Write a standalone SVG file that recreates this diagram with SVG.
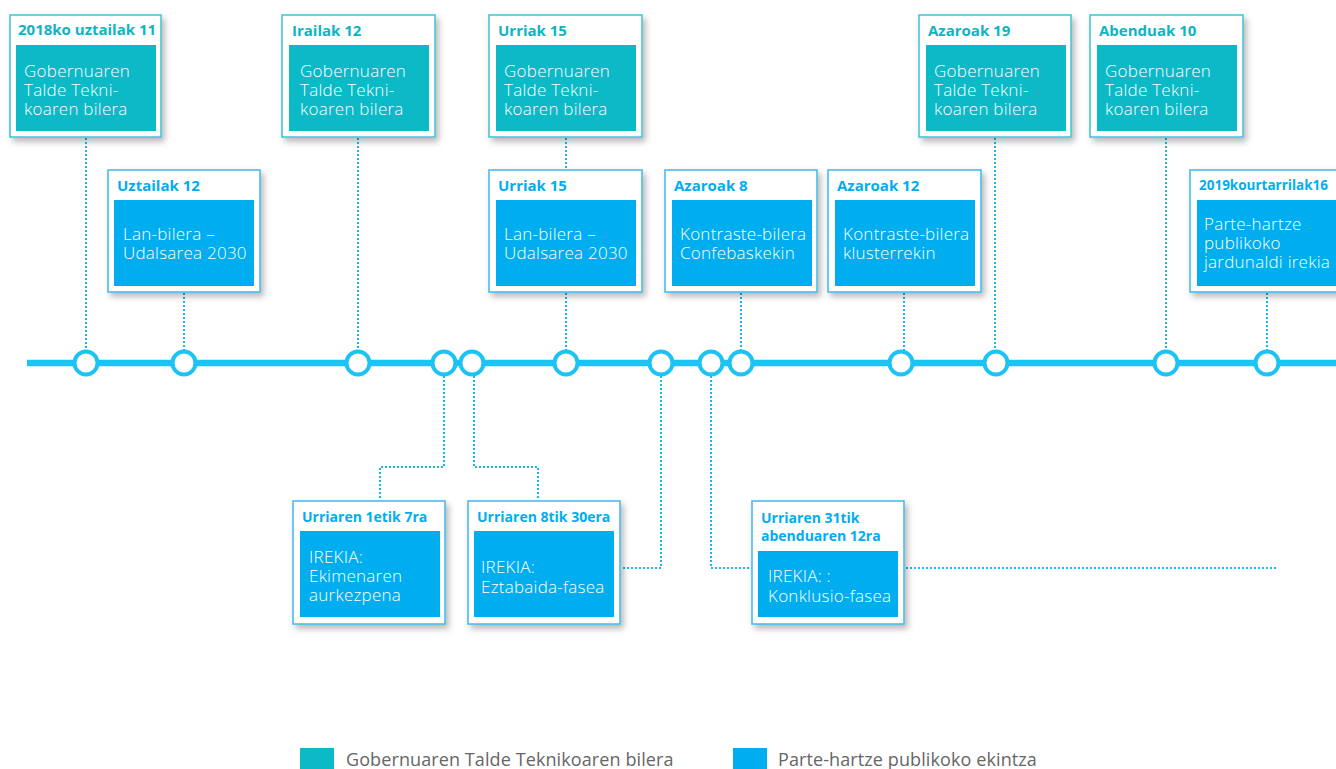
<svg xmlns="http://www.w3.org/2000/svg" width="1336" height="769" viewBox="0 0 1336 769">
<defs>
<filter id="sh" x="-10%" y="-10%" width="130%" height="130%">
<feDropShadow dx="3" dy="4" stdDeviation="3" flood-color="#000" flood-opacity="0.28"/>
</filter>
<style>
.fr{fill:#fff;stroke-width:1.5;filter:url(#sh)}
.frt{stroke:#3CC3D3}
.frb{stroke:#3DB9EC}
.it{fill:#0BB9C7}
.ib{fill:#00AEEF}
.tt{font-family:"Open Sans","Liberation Sans",sans-serif;font-weight:700;font-size:15px;fill:#0BB5C5}
.tb{font-family:"Open Sans","Liberation Sans",sans-serif;font-weight:700;font-size:15px;fill:#00AEEF}
.ts{font-size:14px}
.bd{font-family:"Open Sans","Liberation Sans",sans-serif;font-weight:300;font-size:17px;letter-spacing:0.25px;fill:#fff}
.cn{fill:none;stroke:#1AB8E8;stroke-width:2;stroke-dasharray:2 2}
.tl{stroke:#1CC3F3;stroke-width:6.5}
.dot{fill:#fff;stroke:#1CC3F3;stroke-width:4}
.lg{font-family:"Open Sans","Liberation Sans",sans-serif;font-size:18px;letter-spacing:0.1px;fill:#666}
</style>
</defs>
<g id="connectors">
<path class="cn" d="M86 138V350M184 293V350M358 138V350M566 138V170M566 293V350M741 293V350M904 293V350M995 138V350M1166 138V350M1267 293V350"/>
<path class="cn" d="M444 376V467H380V500M474 376V467H538V500M661 376V568H623M711 376V568H751M906 568H1277"/>
</g>
<g id="timeline">
<line class="tl" x1="27" y1="363" x2="1336" y2="363"/>
<circle class="dot" cx="86" cy="363" r="11.5"/>
<circle class="dot" cx="184" cy="363" r="11.5"/>
<circle class="dot" cx="358" cy="363" r="11.5"/>
<circle class="dot" cx="444" cy="363" r="11.5"/>
<circle class="dot" cx="472" cy="363" r="11.5"/>
<circle class="dot" cx="566" cy="363" r="11.5"/>
<circle class="dot" cx="661" cy="363" r="11.5"/>
<circle class="dot" cx="711" cy="363" r="11.5"/>
<circle class="dot" cx="741" cy="363" r="11.5"/>
<circle class="dot" cx="901" cy="363" r="11.5"/>
<circle class="dot" cx="996" cy="363" r="11.5"/>
<circle class="dot" cx="1166" cy="363" r="11.5"/>
<circle class="dot" cx="1267" cy="363" r="11.5"/>
</g>
<g id="n1">
<rect class="fr frt" x="10" y="15" width="151" height="122"/>
<rect class="it" x="16" y="45" width="140" height="86"/>
<text class="tt" x="18" y="35">2018ko uztailak 11</text>
<text class="bd" x="24" y="77">Gobernuaren</text>
<text class="bd" x="24" y="96">Talde Tekni-</text>
<text class="bd" x="24" y="115">koaren bilera</text>
</g>
<g id="n2">
<rect class="fr frb" x="108" y="170" width="152" height="122"/>
<rect class="ib" x="114" y="200" width="140" height="86"/>
<text class="tb" x="117" y="191">Uztailak 12</text>
<text class="bd" x="123" y="240">Lan-bilera –</text>
<text class="bd" x="123" y="259">Udalsarea 2030</text>
</g>
<g id="n3">
<rect class="fr frt" x="282" y="15" width="153" height="122"/>
<rect class="it" x="289" y="45" width="140" height="86"/>
<text class="tt" x="292" y="36">Irailak 12</text>
<text class="bd" x="300" y="77">Gobernuaren</text>
<text class="bd" x="300" y="96">Talde Tekni-</text>
<text class="bd" x="300" y="115">koaren bilera</text>
</g>
<g id="n4">
<rect class="fr frt" x="489" y="15" width="153" height="122"/>
<rect class="it" x="496" y="45" width="140" height="86"/>
<text class="tt" x="498" y="36">Urriak 15</text>
<text class="bd" x="504" y="77">Gobernuaren</text>
<text class="bd" x="504" y="96">Talde Tekni-</text>
<text class="bd" x="504" y="115">koaren bilera</text>
</g>
<g id="n5">
<rect class="fr frb" x="489" y="170" width="153" height="122"/>
<rect class="ib" x="496" y="200" width="140" height="86"/>
<text class="tb" x="498" y="191">Urriak 15</text>
<text class="bd" x="504" y="240">Lan-bilera –</text>
<text class="bd" x="504" y="259">Udalsarea 2030</text>
</g>
<g id="n6">
<rect class="fr frb" x="665" y="170" width="152" height="122"/>
<rect class="ib" x="672" y="200" width="140" height="86"/>
<text class="tb" x="674" y="191">Azaroak 8</text>
<text class="bd" x="680" y="240">Kontraste-bilera</text>
<text class="bd" x="680" y="259">Confebaskekin</text>
</g>
<g id="n7">
<rect class="fr frb" x="828" y="170" width="153" height="122"/>
<rect class="ib" x="835" y="200" width="140" height="86"/>
<text class="tb" x="837" y="191">Azaroak 12</text>
<text class="bd" x="843" y="240">Kontraste-bilera</text>
<text class="bd" x="843" y="259">klusterrekin</text>
</g>
<g id="n8">
<rect class="fr frt" x="919" y="15" width="152" height="122"/>
<rect class="it" x="926" y="45" width="140" height="86"/>
<text class="tt" x="928" y="36">Azaroak 19</text>
<text class="bd" x="934" y="77">Gobernuaren</text>
<text class="bd" x="934" y="96">Talde Tekni-</text>
<text class="bd" x="934" y="115">koaren bilera</text>
</g>
<g id="n9">
<rect class="fr frt" x="1090" y="15" width="153" height="122"/>
<rect class="it" x="1097" y="45" width="140" height="86"/>
<text class="tt" x="1099" y="36">Abenduak 10</text>
<text class="bd" x="1105" y="77">Gobernuaren</text>
<text class="bd" x="1105" y="96">Talde Tekni-</text>
<text class="bd" x="1105" y="115">koaren bilera</text>
</g>
<g id="n10">
<rect class="fr frb" x="1190" y="170" width="153" height="122"/>
<rect class="ib" x="1197" y="200" width="140" height="86"/>
<text class="tb" x="1199" y="190" font-size="14" textLength="129" lengthAdjust="spacingAndGlyphs">2019kourtarrilak16</text>
<text class="bd" x="1204" y="230">Parte-hartze</text>
<text class="bd" x="1204" y="249">publikoko</text>
<text class="bd" x="1204" y="268">jardunaldi irekia</text>
</g>
<g id="n11">
<rect class="fr frb" x="293" y="501" width="152" height="123"/>
<rect class="ib" x="300" y="531" width="140" height="86"/>
<text class="tb ts" x="302" y="522">Urriaren 1etik 7ra</text>
<text class="bd" x="309" y="563">IREKIA:</text>
<text class="bd" x="309" y="582">Ekimenaren</text>
<text class="bd" x="309" y="601">aurkezpena</text>
</g>
<g id="n12">
<rect class="fr frb" x="468" y="501" width="152" height="123"/>
<rect class="ib" x="474" y="531" width="140" height="86"/>
<text class="tb ts" x="477" y="522">Urriaren 8tik 30era</text>
<text class="bd" x="481" y="573">IREKIA:</text>
<text class="bd" x="481" y="593">Eztabaida-fasea</text>
</g>
<g id="n13">
<rect class="fr frb" x="752" y="501" width="152" height="123"/>
<rect class="ib" x="758" y="551" width="140" height="66"/>
<text class="tb ts" x="761" y="523">Urriaren 31tik</text>
<text class="tb ts" x="761" y="541">abenduaren 12ra</text>
<text class="bd" x="768" y="582">IREKIA: :</text>
<text class="bd" x="768" y="602">Konklusio-fasea</text>
</g>
<g id="legend">
<rect class="it" x="300" y="748" width="34" height="21"/>
<text class="lg" x="346" y="766">Gobernuaren Talde Teknikoaren bilera</text>
<rect class="ib" x="733" y="748" width="34" height="21"/>
<text class="lg" x="778" y="766">Parte-hartze publikoko ekintza</text>
</g>
</svg>
